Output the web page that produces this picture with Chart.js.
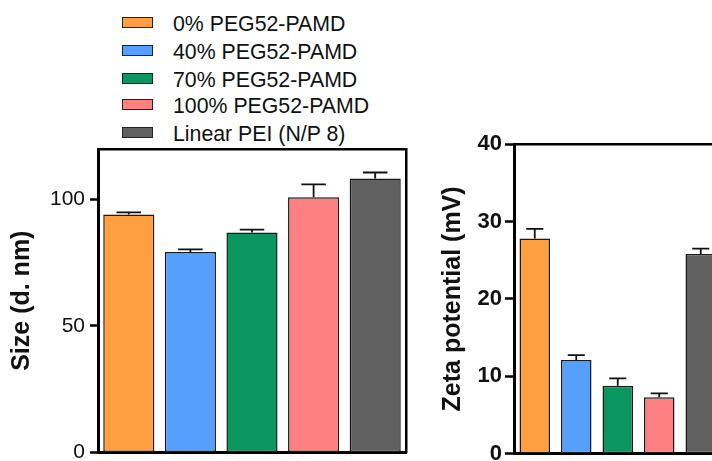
<!DOCTYPE html>
<html>
<head>
<meta charset="utf-8">
<script src="https://cdn.jsdelivr.net/npm/chart.js@4.4.1/dist/chart.umd.min.js"></script>
<style>
  html, body { margin: 0; padding: 0; background: #fff; }
  body { width: 712px; height: 461px; overflow: hidden; position: relative; font-family: 'Liberation Sans', Arial, sans-serif; }
  .panel { position: absolute; top: 0; height: 470px; }
  #size-panel { left: 0; width: 420px; }
  #zeta-panel { left: 420px; width: 320px; }
  #legend { position: absolute; left: 0; top: 0; }
  .legend-item { position: absolute; left: 122px; height: 14px; white-space: nowrap; }
  .legend-box { position: absolute; left: 0; top: 0; width: 29px; height: 9px; border: 1.5px solid #222; }
  .legend-text { position: absolute; left: 51px; top: -5px; font-size: 21.3px; line-height: 24px; color: #111; }
</style>
</head>
<body>
<div id="legend"></div>
<div class="panel" id="size-panel"><canvas id="size-chart"></canvas></div>
<div class="panel" id="zeta-panel"><canvas id="zeta-chart"></canvas></div>
<script>
// groups shown in both panels
const categories = ['0% PEG52-PAMD', '40% PEG52-PAMD', '70% PEG52-PAMD', '100% PEG52-PAMD', 'Linear PEI (N/P 8)'];

// particle size (d. nm), mean and SD
const sizeValues = [94.1, 79.3, 87.0, 100.9, 108.3];
const sizeErrors = [0.8, 1.0, 1.1, 5.1, 2.4];
const sizeTicks = [0, 50, 100];

// zeta potential (mV), mean and SD
const zetaValues = [27.8, 12.1, 8.8, 7.3, 25.8];
const zetaErrors = [1.25, 0.65, 0.95, 0.5, 0.7];
const zetaTicks = [0, 10, 20, 30, 40];

const barColors = ['#FF9F40', '#579FFD', '#0B9660', '#FF8080', '#606060'];
const FONT = "'Liberation Sans', Arial, sans-serif";

// HTML legend, one row per group
const legendRows = [23.3, 51.2, 78.5, 105.3, 132.5];
const legend = document.getElementById('legend');
categories.forEach((name, i) => {
    const item = document.createElement('div');
    item.className = 'legend-item';
    item.style.top = (legendRows[i] - 6) + 'px';
    const box = document.createElement('div');
    box.className = 'legend-box';
    box.style.background = barColors[i];
    const text = document.createElement('div');
    text.className = 'legend-text';
    text.textContent = name;
    item.appendChild(box);
    item.appendChild(text);
    legend.appendChild(item);
});

// draws the upper SD whisker + cap on every bar
const errorBars = {
    id: 'errorBars',
    afterDatasetsDraw(chart, args, opts) {
        const ctx = chart.ctx;
        const yScale = chart.scales.y;
        const meta = chart.getDatasetMeta(0);
        const values = chart.data.datasets[0].data;
        ctx.save();
        ctx.strokeStyle = '#111';
        ctx.lineWidth = 1.8;
        meta.data.forEach((bar, i) => {
            const yBar = yScale.getPixelForValue(values[i]);
            const yTop = yScale.getPixelForValue(values[i] + opts.errors[i]);
            const half = bar.width * opts.cap / 2;
            ctx.beginPath();
            ctx.moveTo(bar.x, yBar);
            ctx.lineTo(bar.x, yTop);
            ctx.moveTo(bar.x - half, yTop);
            ctx.lineTo(bar.x + half, yTop);
            ctx.stroke();
        });
        ctx.restore();
    }
};

// axis used only to draw a frame line (top / right of the plot)
function frameAxis(type, position) {
    return {
        type: type,
        position: position,
        labels: type === 'category' ? categories : undefined,
        grid: { display: false, drawTicks: false },
        ticks: { display: false },
        border: { display: true, color: '#000', width: 2.5 }
    };
}

function makeChart(canvasId, values, errors, ticks, opt) {
    return new Chart(document.getElementById(canvasId), {
        type: 'bar',
        data: {
            labels: categories,
            datasets: [{
                data: values,
                backgroundColor: barColors,
                borderColor: '#1a1a1a',
                borderWidth: 1.5,
                borderSkipped: false,
                barPercentage: opt.barPercentage,
                categoryPercentage: 1
            }]
        },
        options: {
            responsive: true,
            maintainAspectRatio: false,
            animation: false,
            layout: { padding: opt.padding },
            plugins: {
                legend: { display: false },
                tooltip: { enabled: false },
                errorBars: { errors: errors, cap: opt.cap }
            },
            scales: {
                x: {
                    grid: { display: false, drawTicks: false },
                    ticks: { display: false },
                    border: { display: true, color: '#000', width: 3 }
                },
                x2: frameAxis('category', 'top'),
                y: {
                    min: 0,
                    max: opt.max,
                    afterBuildTicks: (scale) => { scale.ticks = ticks.map(v => ({ value: v })); },
                    afterFit: (scale) => { scale.width = opt.axisWidth; },
                    grid: { drawOnChartArea: false, tickLength: opt.tickLength, tickWidth: 2.5, tickColor: '#000' },
                    border: { display: true, color: '#000', width: 3 },
                    ticks: {
                        color: '#111',
                        padding: opt.tickPadding,
                        font: { family: FONT, size: opt.tickSize, weight: opt.tickWeight }
                    },
                    title: {
                        display: true,
                        text: opt.title,
                        color: '#111',
                        padding: { top: opt.titlePad, bottom: 0 },
                        font: { family: FONT, size: 25, weight: 'bold', lineHeight: 1.2 }
                    }
                },
                y2: Object.assign(frameAxis('linear', 'right'), { min: 0, max: opt.max })
            }
        },
        plugins: [errorBars]
    });
}

makeChart('size-chart', sizeValues, sizeErrors, sizeTicks, {
    max: 120,
    title: 'Size (d. nm)',
    barPercentage: 0.83,
    cap: 0.48,
    axisWidth: 98,
    tickLength: 8,
    tickPadding: 5,
    tickSize: 21,
    tickWeight: 'normal',
    titlePad: 7,
    padding: { top: 149, right: 14, bottom: 14, left: 0 }
});

makeChart('zeta-chart', zetaValues, zetaErrors, zetaTicks, {
    max: 40,
    title: 'Zeta potential (mV)',
    barPercentage: 0.735,
    cap: 0.56,
    axisWidth: 94,
    tickLength: 9,
    tickPadding: 3,
    tickSize: 22,
    tickWeight: 'bold',
    titlePad: 18,
    padding: { top: 144, right: 18.5, bottom: 15.5, left: 0 }
});
</script>
</body>
</html>
